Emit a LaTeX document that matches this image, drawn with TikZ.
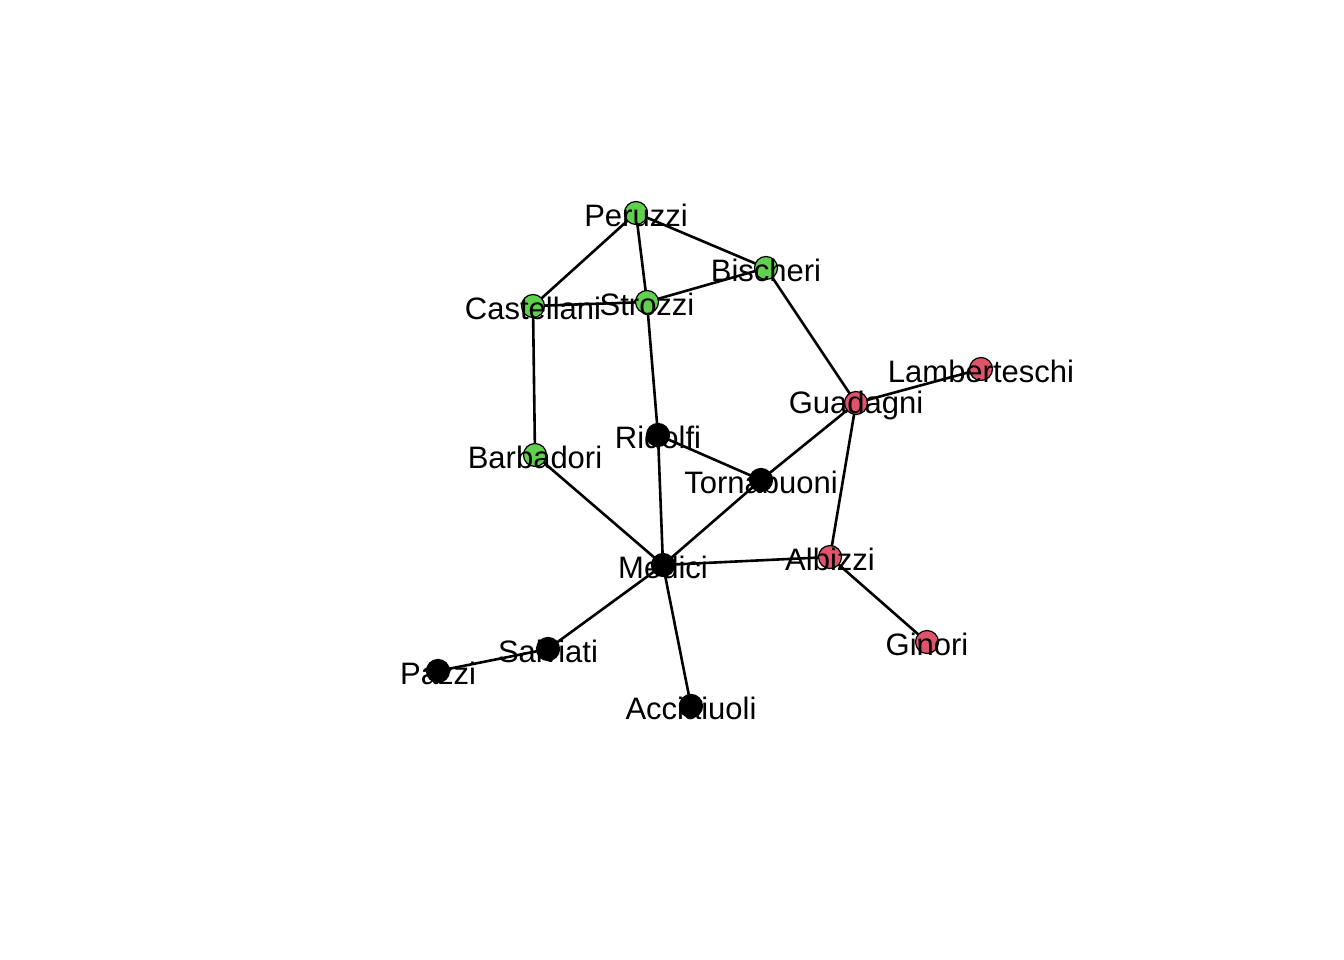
\documentclass[tikz,border=0pt]{standalone}
\usepackage{fontspec}
\setmainfont{Liberation Sans}
\definecolor{famgreen}{HTML}{61D04F}
\definecolor{famred}{HTML}{DF536B}

\begin{document}
\begin{tikzpicture}[x=1pt, y=-1pt,
	fam/.style={circle, draw=black, line width=1.2pt, inner sep=0pt, minimum size=23pt},
	famname/.style={inner sep=0pt, yshift=-2.5pt, font=\fontsize{31}{36}\selectfont},
	tie/.style={line width=2.6pt}]
	\useasboundingbox (0,0) rectangle (1344,960);
	% families: position
	\foreach \n/\x/\y in {Peruzzi/636/213, Bischeri/766/268, Strozzi/647/302,
	  Castellani/533/306, Barbadori/535/455, Lamberteschi/981/369,
	  Guadagni/856/403, Ridolfi/658/435, Tornabuoni/761/480, Medici/663/565,
	  Albizzi/830/557, Ginori/927/642, Salviati/548/649, Pazzi/438/671,
	  Acciaiuoli/691/706}
	  \coordinate (\n) at (\x,\y);
	% marriage ties
	\foreach \a/\b in {Peruzzi/Castellani, Peruzzi/Strozzi, Peruzzi/Bischeri, Castellani/Strozzi,
	  Strozzi/Bischeri, Castellani/Barbadori, Strozzi/Ridolfi, Bischeri/Guadagni, Guadagni/Lamberteschi,
	  Guadagni/Tornabuoni, Guadagni/Albizzi, Ridolfi/Tornabuoni, Ridolfi/Medici, Barbadori/Medici,
	  Tornabuoni/Medici, Medici/Albizzi, Albizzi/Ginori, Medici/Salviati, Salviati/Pazzi, Medici/Acciaiuoli}
	  \draw[tie] (\a) -- (\b);
	\foreach \n/\c in {Peruzzi/famgreen, Bischeri/famgreen, Strozzi/famgreen, Castellani/famgreen,
	  Barbadori/famgreen, Lamberteschi/famred, Guadagni/famred, Ridolfi/black, Tornabuoni/black,
	  Medici/black, Albizzi/famred, Ginori/famred, Salviati/black, Pazzi/black, Acciaiuoli/black}
	  \node[fam, fill=\c] (v\n) at (\n) {};
	\foreach \n in {Peruzzi, Bischeri, Strozzi, Castellani, Barbadori, Lamberteschi, Guadagni, Ridolfi,
	  Tornabuoni, Medici, Albizzi, Ginori, Salviati, Pazzi, Acciaiuoli}
	  \node[famname] (l\n) at (\n) {\n};
\end{tikzpicture}
\end{document}
